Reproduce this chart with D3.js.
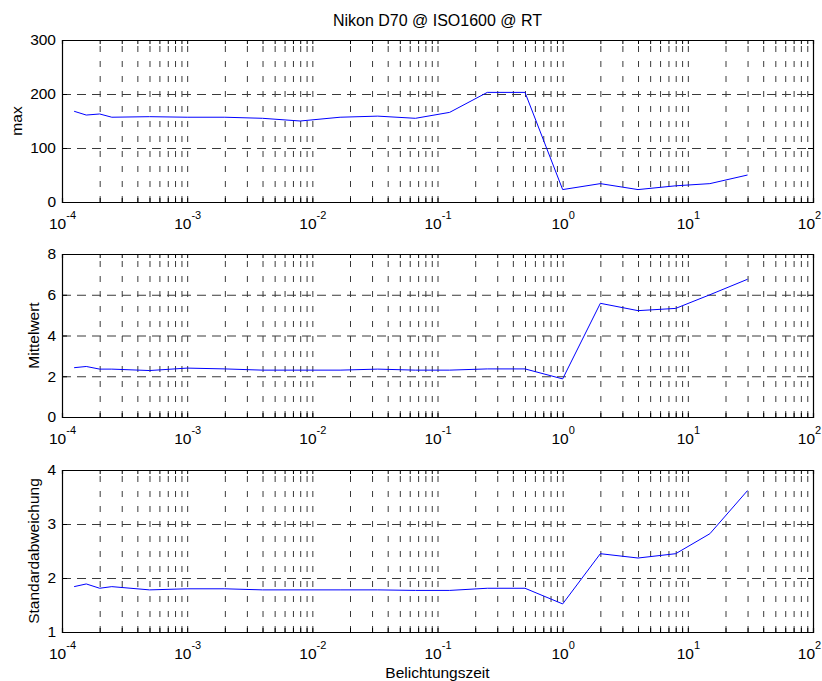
<!DOCTYPE html>
<html>
<head>
<meta charset="utf-8">
<script src="https://cdn.jsdelivr.net/npm/d3@7"></script>
<style>
  body { margin: 0; background: #fff; }
  text { font-family: 'Liberation Sans', Arial, sans-serif; }
</style>
</head>
<body>
<div id="chart"></div>
<script>
// exposure times (s): 1/8000 ... 30
const exposure = [1/8000, 1/6400, 1/5000, 1/4000, 1/2000, 1/1000, 1/500, 1/250, 1/125, 1/60,
  1/30, 1/15, 1/8, 1/4, 1/2, 1, 2, 4, 8, 15, 30]
const maxValues = [168, 161, 163, 157, 158, 157, 157, 155, 150, 157,
  159, 155, 166, 203, 203, 23, 34, 23, 30, 34, 50]
const meanValues = [2.42, 2.48, 2.35, 2.35, 2.28, 2.4, 2.36, 2.3, 2.3, 2.3,
  2.35, 2.3, 2.3, 2.36, 2.36, 1.87, 5.58, 5.22, 5.33, 6.0, 6.76]
const stdValues = [1.84, 1.89, 1.81, 1.84, 1.78, 1.8, 1.8, 1.78, 1.78, 1.78,
  1.78, 1.77, 1.77, 1.81, 1.81, 1.52, 2.45, 2.37, 2.45, 2.82, 3.62]

const xDecades = [1e-4, 1e-3, 1e-2, 1e-1, 1e0, 1e1, 1e2]
const maxTicks = [0, 100, 200, 300]
const meanTicks = [0, 2, 4, 6, 8]
const stdTicks = [1, 2, 3, 4]

const title = 'Nikon D70 @ ISO1600 @ RT'
const xTitle = 'Belichtungszeit'

const W = 822, H = 681
const left = 62, right = 813
const fs = 15.5

const svg = d3.select('#chart').append('svg')
  .attr('width', W).attr('height', H)

const x = d3.scaleLog().domain([1e-4, 1e2]).range([left, right])

// all log ticks 1..9 per decade
const minorTicks = []
for (let e = -4; e < 2; e++) {
  for (let m = 1; m < 10; m++) minorTicks.push(m * Math.pow(10, e))
}
minorTicks.push(1e2)

function drawPanel(top, bottom, values, yTicks, yDomain, label, labelX) {
  const h = bottom - top
  const y = d3.scaleLinear().domain(yDomain).range([bottom, top])
  const g = svg.append('g')

  // vertical grid
  g.append('g')
    .attr('transform', 'translate(0,' + bottom + ')')
    .call(d3.axisBottom(x).tickValues(minorTicks).tickSize(-h).tickFormat(''))
    .call(s => s.select('.domain').remove())
    .selectAll('line')
    .attr('stroke', '#3a3a3a')
    .attr('stroke-dasharray', '6,9')

  // horizontal grid
  g.append('g')
    .attr('transform', 'translate(' + left + ',0)')
    .call(d3.axisLeft(y).tickValues(yTicks).tickSize(-(right - left)).tickFormat(''))
    .call(s => s.select('.domain').remove())
    .selectAll('line')
    .attr('stroke', '#3a3a3a')
    .attr('stroke-dasharray', '9,6')

  // inward ticks on all four sides
  g.append('g')
    .attr('transform', 'translate(0,' + bottom + ')')
    .call(d3.axisBottom(x).tickValues(minorTicks).tickSize(-4).tickFormat(''))
  g.append('g')
    .attr('transform', 'translate(0,' + top + ')')
    .call(d3.axisTop(x).tickValues(minorTicks).tickSize(-4).tickFormat(''))
  g.append('g')
    .attr('transform', 'translate(' + left + ',0)')
    .call(d3.axisLeft(y).tickValues(yTicks).tickSize(-5).tickFormat(''))
  g.append('g')
    .attr('transform', 'translate(' + right + ',0)')
    .call(d3.axisRight(y).tickValues(yTicks).tickSize(-5).tickFormat(''))
  g.selectAll('.domain').attr('stroke', '#000').attr('stroke-width', 1.2)
  g.selectAll('.tick line').filter(function() { return !this.getAttribute('stroke-dasharray') })
    .attr('stroke', '#000')

  // x tick labels 10^n
  const xl = g.append('g')
    .attr('transform', 'translate(0,' + bottom + ')')
    .call(d3.axisBottom(x).tickValues(xDecades).tickSize(0).tickFormat(''))
  xl.select('.domain').remove()
  xl.selectAll('.tick').append('text')
    .attr('y', 27)
    .attr('x', (d, i) => i === xDecades.length - 1 ? -4 : 0)
    .attr('fill', '#000')
    .attr('font-size', fs)
    .attr('text-anchor', 'middle')
    .each(function(d) {
      const t = d3.select(this)
      t.append('tspan').text('10')
      t.append('tspan').attr('dy', -10).attr('font-size', 11).text(Math.round(Math.log10(d)))
    })

  // y tick labels
  const yl = g.append('g')
    .attr('transform', 'translate(' + left + ',0)')
    .call(d3.axisLeft(y).tickValues(yTicks).tickSize(0).tickPadding(6).tickFormat(d3.format('d')))
  yl.select('.domain').remove()
  yl.selectAll('text').attr('font-size', fs).attr('fill', '#000')
    .attr('font-family', "'Liberation Sans', Arial, sans-serif")

  // data line
  const line = d3.line()
    .x((d, i) => x(exposure[i]))
    .y(d => y(d))
  g.append('path')
    .datum(values)
    .attr('fill', 'none')
    .attr('stroke', '#0000ff')
    .attr('stroke-width', 1)
    .attr('d', line)

  g.append('text')
    .attr('transform', 'translate(' + labelX + ',' + (top + bottom) / 2 + ') rotate(-90)')
    .attr('text-anchor', 'middle')
    .attr('dy', '0.35em')
    .attr('font-size', fs)
    .text(label)
}

drawPanel(40, 202, maxValues, maxTicks, [0, 300], 'max', 17)
drawPanel(254, 417, meanValues, meanTicks, [0, 8], 'Mittelwert', 34)
drawPanel(470, 632, stdValues, stdTicks, [1, 4], 'Standardabweichung', 34)

svg.append('text')
  .attr('x', (left + right) / 2)
  .attr('y', 26)
  .attr('text-anchor', 'middle')
  .attr('font-size', 16)
  .text(title)

svg.append('text')
  .attr('x', (left + right) / 2)
  .attr('y', 678)
  .attr('text-anchor', 'middle')
  .attr('font-size', fs)
  .text(xTitle)
</script>
</body>
</html>
